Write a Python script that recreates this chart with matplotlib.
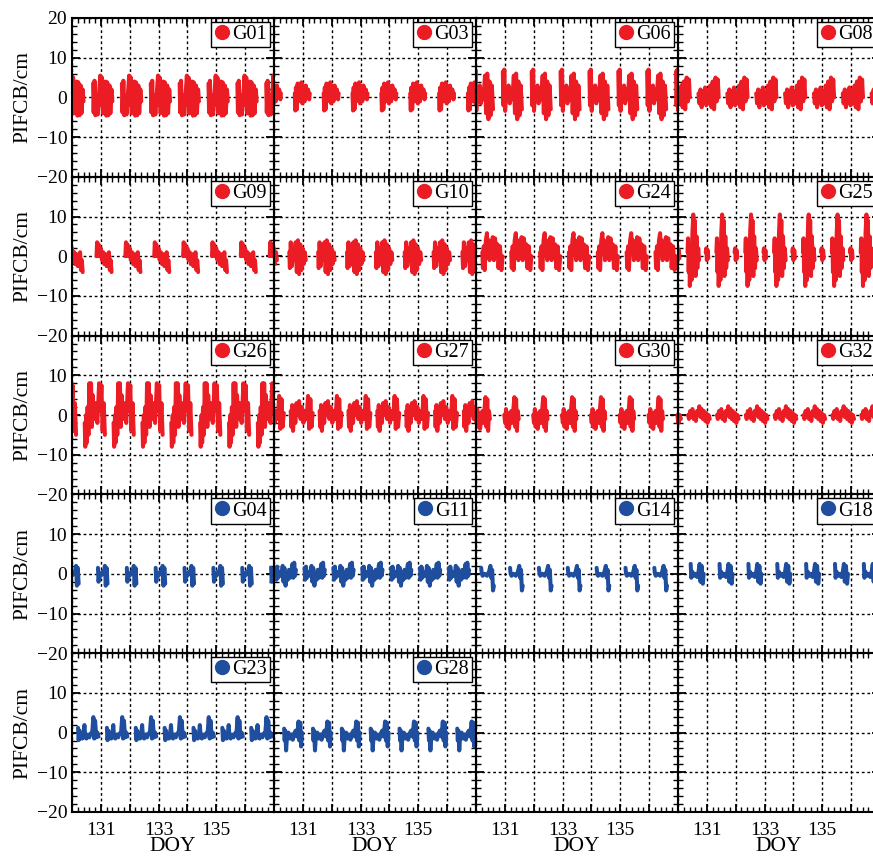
import numpy as np
import matplotlib
matplotlib.use("Agg")
import matplotlib.pyplot as plt
from matplotlib.ticker import MultipleLocator, FuncFormatter

plt.rcParams['font.family'] = ['Liberation Serif', 'DejaVu Serif']
plt.rcParams['font.size'] = 14

# days on which a pass starts (each pass repeats once per day)
arc_days = [129, 130, 131, 132, 133, 134, 135, 136, 137]

# one daily pass per satellite: (offset from the day in days, PIFCB in cm)
nan = np.nan
g01 = [(-0.27, 3.5), (-0.25, -3.8), (-0.22, 4.2), (-0.19, -4.5), (-0.15, 0.5), (-0.11, -4.3),
       (-0.06, 1), (-0.02, 5.5), (0.01, -2), (0.04, 5), (0.07, -4), (0.11, 0), (nan, nan),
       (0.16, 4), (0.19, -4.6), (0.22, 3.8), (0.26, -4.5), (0.30, 3), (0.33, -4), (0.37, 2), (0.40, -1)]
g03 = [(-0.28, 1), (-0.26, -3.3), (-0.24, 2.5), (-0.21, -3), (-0.18, 3.5), (-0.15, -1), (-0.11, 3),
       (-0.08, -0.5), (-0.05, 3.8), (-0.02, -1.5), (0.02, 2.8), (0.06, -1), (0.10, 3), (0.14, 0),
       (0.18, 2), (0.22, -0.5), (0.24, 1)]
g06 = [(-0.07, 6.5), (-0.05, -2), (-0.02, 7), (0.01, -3.4), (0.05, 2), (0.09, -0.5), (0.13, 3),
       (0.17, -1.5), (0.21, 2), (0.26, -0.5), (0.31, 5.5), (0.35, -4), (0.39, 6), (0.43, -5.5),
       (0.47, 4), (0.51, -4.5), (0.55, 3), (0.59, -3)]
g08 = [(-0.29, 1), (-0.26, -1.5), (-0.22, 2), (-0.18, -2.5), (-0.14, 1.5), (-0.10, -1), (-0.06, 2.5),
       (-0.02, -2), (0.02, 1.5), (0.06, -1.5), (0.12, 3), (0.16, -2.5), (0.20, 4), (0.25, -3),
       (0.30, 5), (0.34, -1), (0.38, 4.5), (0.41, 0)]
g09 = [(-0.15, 0), (-0.13, 3.5), (-0.10, 0.5), (-0.08, 3), (-0.05, 0), (0.0, 2), (0.04, -1),
       (0.08, 1), (0.12, -2), (0.16, 0.5), (0.20, -2.5), (0.25, -0.5), (0.28, 1.0), (0.31, -3.5),
       (0.34, -1), (0.37, -4)]
g10 = [(-0.47, 1), (-0.45, -3), (-0.42, 3.5), (-0.38, -2.5), (-0.34, 2), (-0.30, -1), (-0.25, 3.5),
       (-0.21, -4), (-0.17, 4), (-0.13, -4.5), (-0.09, 3), (-0.05, -3.5), (-0.01, 2), (0.03, -2),
       (0.07, 1), (0.10, -1)]
g24 = [(-0.78, 1), (-0.76, -3), (-0.73, 2.5), (-0.70, -3.5), (-0.66, 4), (-0.62, 5.8), (-0.59, 0.5),
       (-0.56, 4), (-0.53, -1), (-0.50, 3), (-0.46, 0), (-0.42, 4.8), (-0.38, -1), (-0.34, 4.5),
       (-0.30, 0.5), (-0.26, 3), (-0.22, -3), (-0.17, 2.5), (-0.12, -3.5), (-0.08, 0)]
g25 = [(-0.67, 1), (-0.65, 4.5), (-0.63, -4), (-0.61, 3), (-0.59, -7.5), (-0.56, 2), (-0.53, -6),
       (-0.50, 6), (-0.47, 10.5), (-0.45, -2), (-0.42, 9), (-0.39, -5), (-0.36, 5), (-0.33, -3),
       (-0.30, 2), (-0.27, -1), (nan, nan), (-0.04, 1), (-0.02, 2), (0.0, -1), (0.03, 1.5), (0.05, -0.5)]
g26 = [(-0.56, -2), (-0.54, -8), (-0.51, 0), (-0.49, -7), (-0.46, 2), (-0.43, -5), (-0.40, 8),
       (-0.37, -2), (-0.34, 8), (-0.31, -3), (-0.28, 5), (-0.24, -1), (-0.20, 3), (-0.16, 0),
       (-0.12, -2), (-0.06, 8), (-0.02, 1), (0.02, 7.5), (0.06, -4), (0.10, 3), (0.14, -5)]
g27 = [(-0.42, 1), (-0.40, -3), (-0.37, 2.5), (-0.34, -4), (-0.30, 1), (-0.26, -2), (-0.22, 3),
       (-0.18, 0), (-0.13, 3.5), (-0.08, -1), (-0.03, 2), (0.02, -2), (0.08, 1), (0.13, -1),
       (0.18, 4.8), (0.22, -3.5), (0.26, 4), (0.30, -3), (0.34, 0.5)]
g30 = [(-0.02, 0), (0.01, -2), (0.04, 1.5), (0.07, -3), (0.10, 0.5), (0.14, -3.5), (0.18, -1),
       (0.22, 1), (0.26, -2), (0.30, 2), (0.33, 4.5), (0.36, -3), (0.39, 4), (0.42, -4),
       (0.45, 1), (0.48, -1)]
g32 = [(-0.65, 0), (-0.62, -1), (-0.58, 1), (-0.54, -0.5), (-0.50, 1.5), (-0.46, -1), (-0.42, 0.5),
       (-0.38, -1.5), (-0.34, 1), (-0.30, 0), (-0.26, 2.2), (-0.22, -0.5), (-0.18, 1.5), (-0.14, -1),
       (-0.10, 1), (-0.06, -1.5), (-0.02, 0.5), (0.02, -2), (0.06, 0), (0.10, -1)]
g04 = [(-0.10, 1.5), (-0.08, -2), (-0.05, 0), (0.0, -0.5), (0.05, 0.5), (0.10, 0), (0.14, 2),
       (0.17, -3), (0.20, 1.5), (0.23, -2.5)]
g11 = [(0.06, 1.5), (0.08, -1.5), (0.11, 1.8), (0.14, -1), (0.18, 0.5), (0.22, -0.5), (0.27, 0),
       (0.30, 2), (0.33, -2), (0.36, 1.5), (0.40, -3), (0.44, 0), (0.48, -1.5), (0.52, 1),
       (0.56, -1), (0.60, 0.5), (0.64, 2.5), (0.67, -1), (0.70, 2.8), (0.73, -0.5), (0.76, 1)]
g14 = [(0.18, 1.5), (0.20, 0), (0.23, -0.5), (0.30, 0), (0.38, -0.5), (0.45, 0.5), (0.50, 2),
       (0.53, -1), (0.56, 1), (0.59, -4.2), (0.62, -3)]
g18 = [(0.44, 2.5), (0.46, -1), (0.50, 0.5), (0.55, -0.5), (0.60, 0), (0.66, -0.8), (0.70, 0),
       (0.75, 2.5), (0.78, -2), (0.82, 2), (0.86, -2.5), (0.89, 0)]
g23 = [(0.21, 1.2), (0.23, -1.9), (0.26, 0.5), (0.28, -1.5), (0.32, -0.5), (0.36, -1.5), (0.40, -0.3),
       (0.43, 1.9), (0.46, -1.2), (0.50, -1.5), (0.55, -0.5), (0.60, -1.2), (0.65, -0.2), (0.70, 0),
       (0.74, 3.9), (0.77, -1.5), (0.80, 3), (0.84, -1.2), (0.88, 0), (0.92, -1)]
g28 = [(0.35, 1), (0.37, -2), (0.39, 0.5), (0.42, -4.5), (0.45, -1), (0.50, 0), (0.55, -1.5),
       (0.60, -0.5), (0.65, -1.8), (0.70, -0.2), (0.75, 0.5), (0.80, -1), (0.85, 2.8), (0.88, -2),
       (0.91, 2.5), (0.94, -3.5), (0.97, 0)]

red_sats = ['G01', 'G03', 'G06', 'G08', 'G09', 'G10', 'G24', 'G25', 'G26', 'G27', 'G30', 'G32']
blue_sats = ['G04', 'G11', 'G14', 'G18', 'G23', 'G28']
passes = [g01, g03, g06, g08, g09, g10, g24, g25, g26, g27, g30, g32,
          g04, g11, g14, g18, g23, g28]

red = '#ec1c24'
blue = '#1f4e9f'

fig = plt.figure(figsize=(8.73, 8.56), dpi=100)
W, H = 873.0, 856.0
left0, top0, pw, ph = 72, 18, 202, 158.8


def ylab(v, p, hide_top):
    if hide_top and v > 15:
        return ''
    return '%d' % v if v >= 0 else '\u2212%d' % -v


sats = red_sats + blue_sats
for k in range(20):
    r, c = divmod(k, 4)
    ax = fig.add_axes([(left0 + c * pw) / W, 1 - (top0 + (r + 1) * ph) / H, pw / W, ph / H])
    ax.set_xlim(130, 137)
    ax.set_ylim(-20, 20)
    ax.xaxis.set_major_locator(MultipleLocator(1))
    ax.xaxis.set_minor_locator(MultipleLocator(0.2))
    ax.yaxis.set_major_locator(MultipleLocator(10))
    ax.yaxis.set_minor_locator(MultipleLocator(2))
    ax.grid(True, which='major', color='black', linestyle=(0, (2, 2)), linewidth=1)
    ax.tick_params(which='both', direction='in', top=True, right=True)
    ax.tick_params(which='major', length=6, width=1.3)
    ax.tick_params(which='minor', length=3.5, width=1)
    ax.tick_params(axis='x', pad=7)
    for s in ax.spines.values():
        s.set_linewidth(1.5)

    if r == 4:
        ax.xaxis.set_major_formatter(FuncFormatter(
            lambda v, p: '%d' % v if int(round(v)) in (131, 133, 135) else ''))
        ax.set_xlabel('DOY', labelpad=-1, fontsize=15.5)
    else:
        ax.set_xticklabels([])
    if c == 0:
        ax.yaxis.set_major_formatter(FuncFormatter(
            lambda v, p, h=(r > 0): ylab(v, p, h)))
        ax.set_ylabel('PIFCB/cm', labelpad=3, fontsize=15.5)
    else:
        ax.set_yticklabels([])

    if k < len(sats):
        col = red if k < len(red_sats) else blue
        tmpl = np.array(passes[k], dtype=float)
        xs, ys = [], []
        for d in arc_days:
            xs.extend(list(d + tmpl[:, 0]) + [np.nan])
            ys.extend(list(tmpl[:, 1]) + [np.nan])
        ax.plot(xs, ys, color=col, lw=2.9, solid_joinstyle='round', solid_capstyle='round')
        ax.plot([], [], 'o', color=col, markersize=10, label=sats[k])
        leg = ax.legend(loc='upper right', handlelength=0.8, handletextpad=0.1,
                        borderpad=0.15, borderaxespad=0.2, fancybox=False,
                        framealpha=1, edgecolor='black', fontsize=14.5)
        leg.get_frame().set_linewidth(1.0)

fig.savefig('out.png', dpi=100)
